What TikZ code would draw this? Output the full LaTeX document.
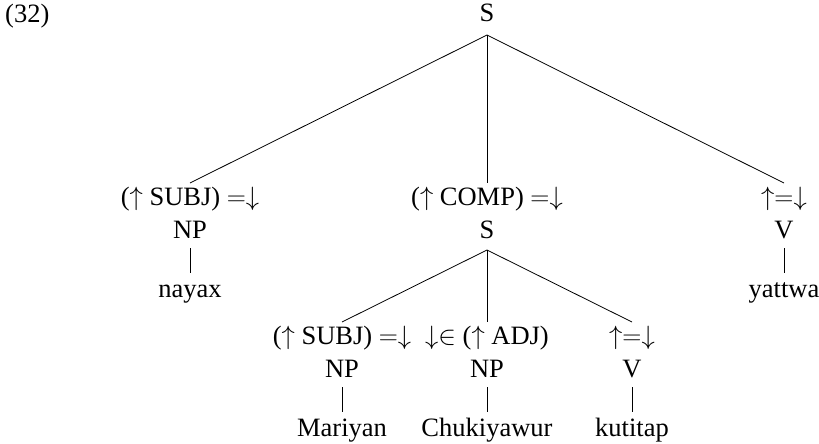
\RequirePackage{fix-cm}
\documentclass[tikz,border=0pt]{standalone}
\usepackage{fontspec}
\setmainfont{Liberation Serif}
\tikzset{
  lbl/.style={inner sep=0pt, anchor=base, font=\fontsize{26.5}{32}\selectfont},
  edge/.style={line width=0.8pt}
}
\begin{document}
\begin{tikzpicture}[x=1pt,y=-1pt]
\useasboundingbox (0,0) rectangle (819,444);
\node[lbl, anchor=base west] (num) at (5,23) {(32)};
\node[lbl] (S0) at (487,22) {S};
% level 1
\node[lbl] (a1) at (190,205) {(\(\uparrow\) SUBJ) \(=\downarrow\)};
\node[lbl] (a2) at (487,205) {(\(\uparrow\) COMP) \(=\downarrow\)};
\node[lbl] (a3) at (784,205) {\(\uparrow=\downarrow\)};
\node[lbl] (c1) at (190,238) {NP};
\node[lbl] (c2) at (487,238) {S};
\node[lbl] (c3) at (784,238) {V};
\node[lbl] (w1) at (190,297) {nayax};
\node[lbl] (w3) at (784,297) {yattwa};
% level 2
\node[lbl] (b1) at (342,344) {(\(\uparrow\) SUBJ) \(=\downarrow\)};
\node[lbl] (b2) at (487,344) {\(\downarrow\in\) (\(\uparrow\) ADJ)};
\node[lbl] (b3) at (632,344) {\(\uparrow=\downarrow\)};
\node[lbl] (d1) at (342,377) {NP};
\node[lbl] (d2) at (487,377) {NP};
\node[lbl] (d3) at (632,377) {V};
\node[lbl] (v1) at (342,436) {Mariyan};
\node[lbl] (v2) at (487,436) {Chukiyawur};
\node[lbl] (v3) at (632,436) {kutitap};
% edges
\foreach \t in {a1,a2,a3}
  \draw[edge] ([yshift=-13pt]S0.base) -- ([yshift=22pt]\t.base);
\foreach \t in {b1,b2,b3}
  \draw[edge] ([yshift=-12pt]c2.base) -- ([yshift=22pt]\t.base);
\draw[edge] ([yshift=-10pt]c1.base) -- ([yshift=24pt]w1.base);
\draw[edge] ([yshift=-10pt]c3.base) -- ([yshift=24pt]w3.base);
\draw[edge] ([yshift=-10pt]d1.base) -- ([yshift=24pt]v1.base);
\draw[edge] ([yshift=-10pt]d2.base) -- ([yshift=24pt]v2.base);
\draw[edge] ([yshift=-10pt]d3.base) -- ([yshift=24pt]v3.base);
\end{tikzpicture}
\end{document}
